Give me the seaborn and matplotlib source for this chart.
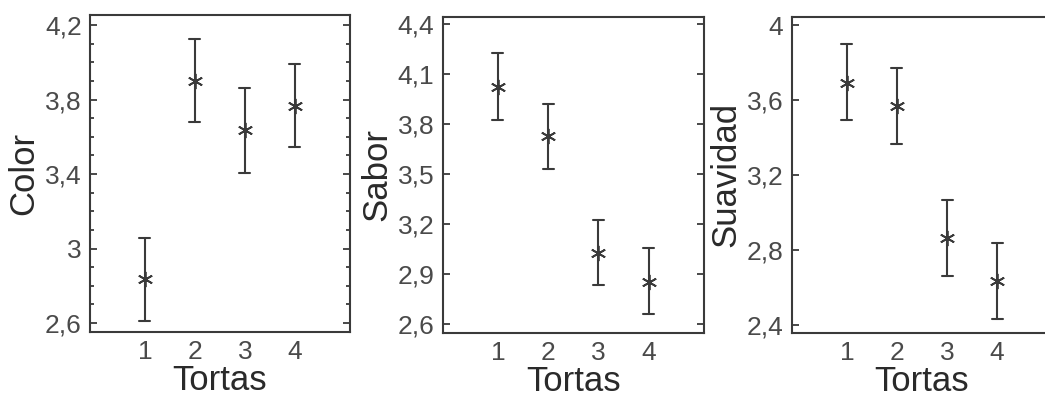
#librerias basicas
import numpy as np
import pandas as pd
import matplotlib
matplotlib.use("Agg")
import matplotlib.pyplot as plt
from matplotlib.ticker import FuncFormatter, MultipleLocator
import seaborn as sns

#DATOS (media y limites del intervalo)
tortas = [1, 2, 3, 4]

color_media = [2.835, 3.900, 3.636, 3.765]
color_inf = [2.610, 3.678, 3.405, 3.543]
color_sup = [3.055, 4.123, 3.860, 3.989]

sabor_media = [4.023, 3.728, 3.029, 2.855]
sabor_inf = [3.828, 3.531, 2.835, 2.660]
sabor_sup = [4.230, 3.920, 3.226, 3.060]

suav_media = [3.692, 3.568, 2.866, 2.635]
suav_inf = [3.493, 3.365, 2.661, 2.430]
suav_sup = [3.897, 3.771, 3.067, 2.836]

etiquetas = ["Color", "Sabor", "Suavidad"]
yticks = [
    [2.6, 3.0, 3.4, 3.8, 4.2],
    [2.6, 2.9, 3.2, 3.5, 3.8, 4.1, 4.4],
    [2.4, 2.8, 3.2, 3.6, 4.0],
]
ylims = [(2.552, 4.254), (2.548, 4.446), (2.359, 4.044)]

#estilo
sns.set_style("ticks")
plt.rcParams["font.family"] = ["Liberation Sans", "DejaVu Sans"]

gris = "#3a3a3a"
gris_texto = "#4a4a4a"


def tabla(media, inf, sup):
    #tres filas por torta: limite inferior, media y limite superior
    filas = []
    for t, m, a, b in zip(tortas, media, inf, sup):
        filas += [(t, a), (t, m), (t, b)]
    return pd.DataFrame(filas, columns=["Tortas", "valor"])


datos = [
    tabla(color_media, color_inf, color_sup),
    tabla(sabor_media, sabor_inf, sabor_sup),
    tabla(suav_media, suav_inf, suav_sup),
]

fig = plt.figure(figsize=(10.45, 4), dpi=100)
posiciones = [
    [0.0861, 0.170, 0.2488, 0.7925],
    [0.4236, 0.168, 0.2500, 0.7900],
    [0.7576, 0.168, 0.2494, 0.7900],
]

coma = FuncFormatter(lambda v, p: f"{v:g}".replace(".", ","))

for i in range(3):
    ax = fig.add_axes(posiciones[i])
    sns.pointplot(
        data=datos[i], x="Tortas", y="valor",
        estimator="median", errorbar=("pi", 100),
        native_scale=True, color=gris,
        marker=(6, 2, 0), markersize=11, markeredgewidth=1.3,
        linestyle="none", capsize=0.22,
        err_kws={"linewidth": 1.5},
        ax=ax,
    )
    ax.set_xlim(-0.1, 5.1)
    ax.set_ylim(*ylims[i])
    ax.set_xticks(tortas)
    ax.set_yticks(yticks[i])
    ax.yaxis.set_major_formatter(coma)
    if i == 0:
        ax.yaxis.set_minor_locator(MultipleLocator(0.1))
    ax.tick_params(axis="y", which="both", direction="in", left=True, right=True,
                   colors=gris, labelcolor=gris_texto, labelsize=19, width=1.3, pad=6)
    ax.tick_params(axis="y", which="major", length=5)
    ax.tick_params(axis="y", which="minor", length=3)
    ax.tick_params(axis="x", length=0, labelsize=19, labelcolor=gris_texto, pad=6)
    for lado in ax.spines.values():
        lado.set_visible(True)
        lado.set_color(gris)
        lado.set_linewidth(1.5)
    ax.set_xlabel("Tortas", fontsize=25, color="#2a2a2a", labelpad=0)
    ax.set_ylabel(etiquetas[i], fontsize=25, color="#2a2a2a", labelpad=3)

plt.savefig("out.png", dpi=100)
